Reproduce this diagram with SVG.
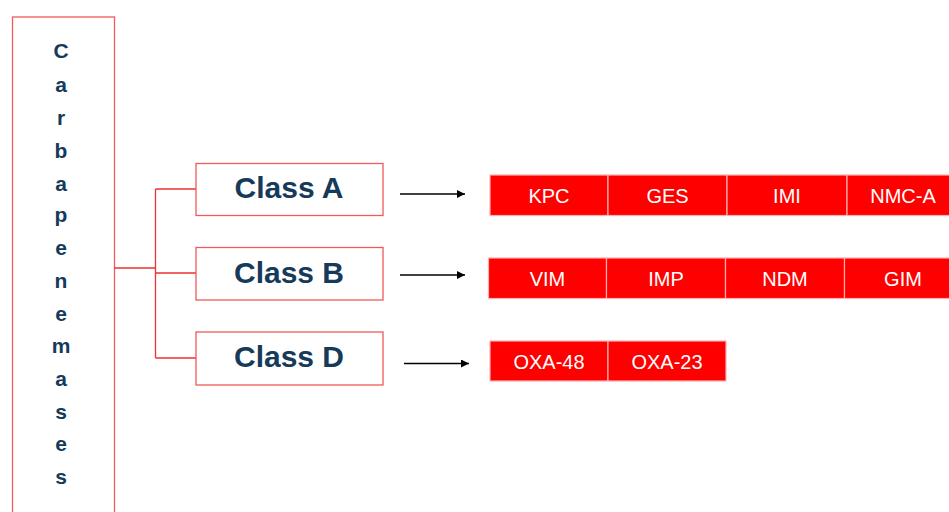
<svg xmlns="http://www.w3.org/2000/svg" width="949" height="512" viewBox="0 0 949 512">
<style>
.frame{fill:#fff;stroke:#f05a5a;stroke-width:1.3}
.lbl{font-family:"Liberation Sans",Arial,sans-serif;font-weight:bold;fill:#163a5a;text-anchor:middle}
.cls{font-size:30px}
.ltr{font-size:21px}
.tag rect{fill:#ff0000;stroke:#ffb0b0;stroke-width:1.2}
.tag text{font-family:"Liberation Sans",Arial,sans-serif;font-size:20px;fill:#fff;text-anchor:middle}
.conn{stroke:#f03030;stroke-width:1.3;fill:none}
.arr{stroke:#000;stroke-width:1.3;fill:none;marker-end:url(#ah)}
</style>
<defs>
<marker id="ah" viewBox="0 0 10 10" refX="10" refY="5" markerWidth="8" markerHeight="8" markerUnits="userSpaceOnUse" orient="auto">
<path d="M0,0 L10,5 L0,10 z" fill="#000"/>
</marker>
</defs>
<rect width="949" height="512" fill="#fff"/>
<g id="carbapenemases">
<rect class="frame" x="12.5" y="17" width="102" height="510"/>
<text class="lbl ltr" x="61" y="58">C</text>
<text class="lbl ltr" x="61" y="92">a</text>
<text class="lbl ltr" x="61" y="125">r</text>
<text class="lbl ltr" x="61" y="158">b</text>
<text class="lbl ltr" x="61" y="191">a</text>
<text class="lbl ltr" x="61" y="222">p</text>
<text class="lbl ltr" x="61" y="255">e</text>
<text class="lbl ltr" x="61" y="288">n</text>
<text class="lbl ltr" x="61" y="321">e</text>
<text class="lbl ltr" x="61" y="353">m</text>
<text class="lbl ltr" x="61" y="386">a</text>
<text class="lbl ltr" x="61" y="419">s</text>
<text class="lbl ltr" x="61" y="451">e</text>
<text class="lbl ltr" x="61" y="484">s</text>
</g>
<g id="connectors">
<path class="conn" d="M114.5,268 H155.5 M155.5,189 V358 M155.5,189 H196 M155.5,273 H196 M155.5,358 H196"/>
<line class="arr" x1="400" y1="194" x2="465" y2="194"/>
<line class="arr" x1="400" y1="275" x2="465" y2="275"/>
<line class="arr" x1="404" y1="363.5" x2="469" y2="363.5"/>
</g>
<g id="classA">
<rect class="frame" x="196" y="163.5" width="187" height="52"/>
<text class="lbl cls" x="289" y="198">Class A</text>
</g>
<g id="classB">
<rect class="frame" x="196" y="247.5" width="187" height="52.5"/>
<text class="lbl cls" x="289" y="283">Class B</text>
</g>
<g id="classD">
<rect class="frame" x="196" y="332" width="187" height="53"/>
<text class="lbl cls" x="289" y="367">Class D</text>
</g>
<g id="rowA" class="tag">
<rect x="490" y="175" width="118" height="40.5"/><text x="549" y="203">KPC</text>
<rect x="608" y="175" width="119" height="40.5"/><text x="667.5" y="203">GES</text>
<rect x="727" y="175" width="120" height="40.5"/><text x="787" y="203">IMI</text>
<rect x="847" y="175" width="104" height="40.5"/><text x="903" y="203">NMC-A</text>
</g>
<g id="rowB" class="tag">
<rect x="488.5" y="258" width="118" height="40.5"/><text x="547.5" y="286">VIM</text>
<rect x="606.5" y="258" width="119" height="40.5"/><text x="666" y="286">IMP</text>
<rect x="725.5" y="258" width="119" height="40.5"/><text x="785" y="286">NDM</text>
<rect x="844.5" y="258" width="106" height="40.5"/><text x="903" y="286">GIM</text>
</g>
<g id="rowD" class="tag">
<rect x="490" y="341" width="118" height="40"/><text x="549" y="369">OXA-48</text>
<rect x="608" y="341" width="118" height="40"/><text x="667" y="369">OXA-23</text>
</g>
</svg>
